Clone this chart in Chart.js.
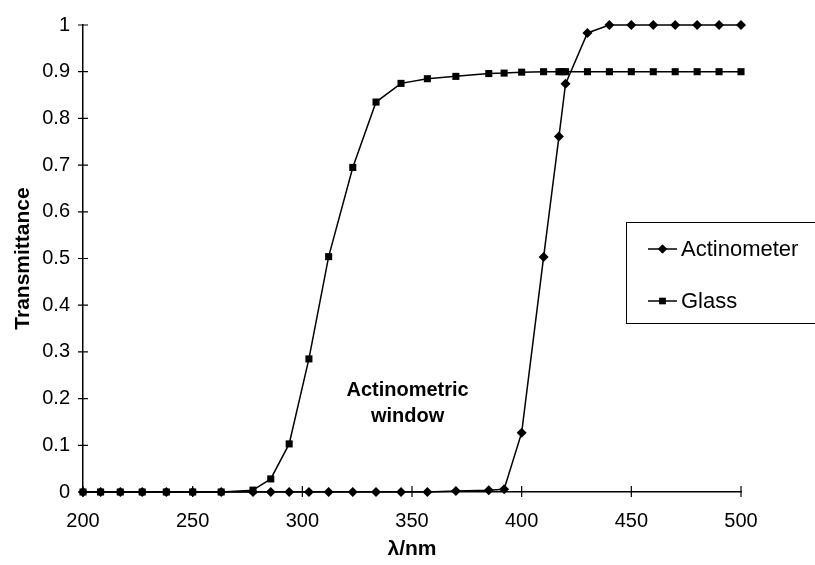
<!DOCTYPE html>
<html>
<head>
<meta charset="utf-8">
<script src="https://cdn.jsdelivr.net/npm/chart.js@4"></script>
<style>
  html, body { margin: 0; padding: 0; background: #fff; }
  #wrap { width: 815px; height: 565px; }
</style>
</head>
<body>
<div id="wrap"><canvas id="chart" width="815" height="565"></canvas></div>
<script>
// wavelengths (nm)
const glassX = [200, 208, 217, 227, 238, 250, 263, 277.5, 285.6, 294, 303, 312, 323, 333.6, 345, 357, 370, 385, 392, 400, 410, 417, 418.5, 420, 430, 440, 450, 460, 470, 480, 490, 500];
const glassT = [0, 0, 0, 0, 0, 0, 0, 0.004, 0.028, 0.103, 0.285, 0.504, 0.695, 0.835, 0.875, 0.885, 0.89, 0.896, 0.897, 0.899, 0.9, 0.9, 0.9, 0.9, 0.9, 0.9, 0.9, 0.9, 0.9, 0.9, 0.9, 0.9];

const actX = [200, 208, 217, 227, 238, 250, 263, 277.5, 285.6, 294, 303, 312, 323, 333.6, 345, 357, 370, 385, 392, 400, 410, 417, 420, 430, 440, 450, 460, 470, 480, 490, 500];
const actT = [0, 0, 0, 0, 0, 0, 0, 0, 0, 0, 0, 0, 0, 0, 0, 0, 0.002, 0.004, 0.006, 0.127, 0.503, 0.761, 0.874, 0.983, 1, 1, 1, 1, 1, 1, 1];

const xTicks = [200, 250, 300, 350, 400, 450, 500];
const yTicks = [0, 0.1, 0.2, 0.3, 0.4, 0.5, 0.6, 0.7, 0.8, 0.9, 1];

const noteLines = ['Actinometric', 'window'];
const notePos = { x: 348, y: 0.218 };

const FONT = '"Liberation Sans", Arial, sans-serif';

// tick marks crossing the axes, like the original
const crossTicks = {
  id: 'crossTicks',
  afterDraw(chart) {
    const { ctx, chartArea, scales } = chart;
    ctx.save();
    ctx.strokeStyle = '#000';
    ctx.lineWidth = 1.2;
    ctx.beginPath();
    xTicks.forEach(v => {
      const px = scales.x.getPixelForValue(v);
      ctx.moveTo(px, chartArea.bottom - 6);
      ctx.lineTo(px, chartArea.bottom + 5);
    });
    yTicks.forEach(v => {
      const py = scales.y.getPixelForValue(v);
      ctx.moveTo(chartArea.left - 5, py);
      ctx.lineTo(chartArea.left + 5, py);
    });
    ctx.stroke();
    ctx.restore();
  }
};

// "Actinometric window" note
const note = {
  id: 'note',
  afterDatasetsDraw(chart) {
    const { ctx, scales } = chart;
    const px = scales.x.getPixelForValue(notePos.x);
    const py = scales.y.getPixelForValue(notePos.y);
    ctx.save();
    ctx.fillStyle = '#000';
    ctx.font = 'bold 20px ' + FONT;
    ctx.textAlign = 'center';
    ctx.textBaseline = 'middle';
    noteLines.forEach((t, i) => ctx.fillText(t, px, py + i * 26));
    ctx.restore();
  }
};

// boxed legend sitting over the plot, Excel style
const boxLegend = {
  id: 'boxLegend',
  afterDraw(chart) {
    const { ctx } = chart;
    const left = 626, top = 222, right = 820, bottom = 323;
    ctx.save();
    ctx.fillStyle = '#fff';
    ctx.fillRect(left, top, right - left, bottom - top);
    ctx.strokeStyle = '#000';
    ctx.lineWidth = 1;
    ctx.strokeRect(left + 0.5, top + 0.5, right - left, bottom - top);
    ctx.font = '22px ' + FONT;
    ctx.textBaseline = 'middle';
    ctx.textAlign = 'left';
    chart.data.datasets.forEach((ds, i) => {
      const y = i === 0 ? 249 : 301;
      ctx.strokeStyle = '#000';
      ctx.lineWidth = 1.5;
      ctx.beginPath();
      ctx.moveTo(648, y);
      ctx.lineTo(677, y);
      ctx.stroke();
      ctx.fillStyle = '#000';
      Chart.helpers.drawPoint(ctx, { pointStyle: ds.pointStyle, rotation: 0, radius: ds.pointRadius - 0.5, borderWidth: 0 }, 662.5, y);
      ctx.fill();
      ctx.fillText(ds.label, 681, y + 1);
    });
    ctx.restore();
  }
};

new Chart(document.getElementById('chart'), {
  type: 'line',
  data: {
    datasets: [
      {
        label: 'Actinometer',
        data: actX.map((x, i) => ({ x, y: actT[i] })),
        borderColor: '#000',
        backgroundColor: '#000',
        borderWidth: 1.5,
        pointStyle: 'rectRot',
        pointRadius: 5,
        pointBorderWidth: 0,
        tension: 0
      },
      {
        label: 'Glass',
        data: glassX.map((x, i) => ({ x, y: glassT[i] })),
        borderColor: '#000',
        backgroundColor: '#000',
        borderWidth: 1.5,
        pointStyle: 'rect',
        pointRadius: 5,
        pointBorderWidth: 0,
        tension: 0
      }
    ]
  },
  options: {
    responsive: false,
    animation: false,
    clip: false,
    layout: { padding: { top: 23, right: 74, left: 0, bottom: 0 } },
    plugins: { legend: { display: false }, tooltip: { enabled: false } },
    scales: {
      x: {
        type: 'linear',
        min: 200,
        max: 500,
        afterBuildTicks: s => { s.ticks = xTicks.map(v => ({ value: v })); },
        afterFit: s => { s.height = 73; },
        grid: { drawOnChartArea: false, drawTicks: false },
        border: { display: true, color: '#000', width: 1.5 },
        ticks: { color: '#000', padding: 17, maxRotation: 0, font: { family: FONT, size: 20 } },
        title: {
          display: true,
          text: 'λ/nm',
          color: '#000',
          padding: { top: 0, bottom: 3 },
          font: { family: FONT, size: 21, weight: 'bold' }
        }
      },
      y: {
        min: 0,
        max: 1,
        afterBuildTicks: s => { s.ticks = yTicks.map(v => ({ value: v })); },
        afterFit: s => { s.width = 83; },
        grid: { drawOnChartArea: false, drawTicks: false },
        border: { display: true, color: '#000', width: 1.5 },
        ticks: {
          color: '#000',
          padding: 13,
          font: { family: FONT, size: 20 },
          callback: v => String(Math.round(v * 10) / 10)
        },
        title: {
          display: true,
          text: 'Transmittance',
          color: '#000',
          padding: { top: 11, bottom: 0 },
          font: { family: FONT, size: 21, weight: 'bold' }
        }
      }
    }
  },
  plugins: [crossTicks, note, boxLegend]
});
</script>
</body>
</html>
